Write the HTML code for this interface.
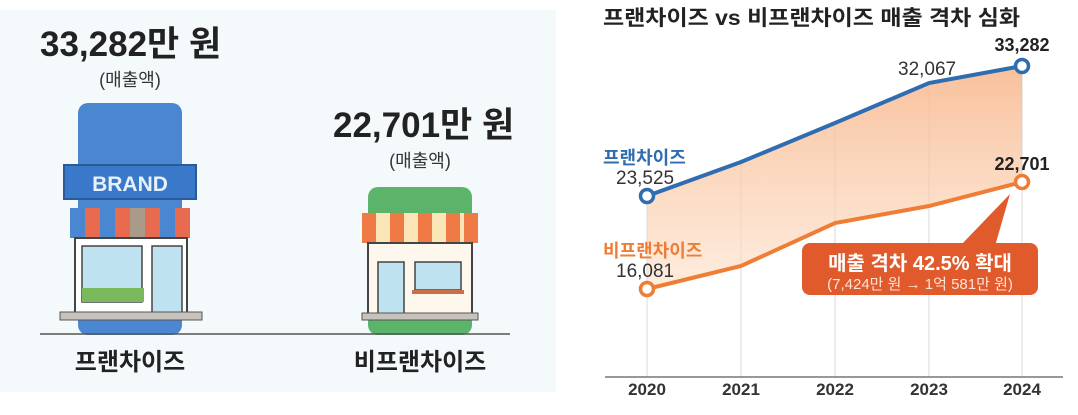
<!DOCTYPE html>
<html><head><meta charset="utf-8"><style>
body{margin:0;width:1078px;height:410px;background:#fff;overflow:hidden;font-family:"Liberation Sans","Noto Sans CJK KR",sans-serif}
</style></head><body>
<svg width="1078" height="410" viewBox="0 0 1078 410" xmlns="http://www.w3.org/2000/svg" font-family="Liberation Sans, Noto Sans CJK KR, sans-serif">
<defs>
<linearGradient id="gap" x1="0" y1="0" x2="0" y2="1"><stop offset="0" stop-color="#f7b589" stop-opacity="0.85"/><stop offset="1" stop-color="#fde0c8" stop-opacity="0.6"/></linearGradient>
</defs>
<!-- left panel -->
<rect x="0" y="10" width="556" height="382" fill="#f4fafb"/>
<text x="40" y="56" font-size="35" font-weight="bold" fill="#222">33,282만 원</text>
<text x="130" y="86" font-size="18" fill="#333" text-anchor="middle">(매출액)</text>
<rect x="78" y="103" width="104" height="232" rx="10" fill="#4a87d0"/>
<rect x="64" y="165" width="132" height="34" fill="#3a78c9" stroke="#2c5a96" stroke-width="2"/>
<text x="130" y="191" font-size="21" font-weight="bold" fill="#e8f1fb" text-anchor="middle">BRAND</text>
<g>
<rect x="70" y="208" width="120" height="30" fill="#e86a4f"/>
<rect x="70" y="208" width="15" height="30" fill="#4a87d0"/><rect x="100" y="208" width="15" height="30" fill="#4a87d0"/><rect x="130" y="208" width="15" height="30" fill="#a99a8a"/><rect x="160" y="208" width="15" height="30" fill="#4a87d0"/>
<rect x="75" y="238" width="112" height="80" fill="#fff" stroke="#444" stroke-width="2"/>
<rect x="82" y="246" width="60" height="56" fill="#bfe2f0" stroke="#444" stroke-width="1.5"/>
<rect x="82" y="288" width="62" height="14" fill="#7ab85c"/>
<rect x="152" y="246" width="30" height="70" fill="#bfe2f0" stroke="#444" stroke-width="1.5"/>
<rect x="60" y="312" width="142" height="8" fill="#c8c2bc" stroke="#555"/>
</g>
<text x="333" y="137" font-size="35" font-weight="bold" fill="#222">22,701만 원</text>
<text x="420" y="167" font-size="18" fill="#333" text-anchor="middle">(매출액)</text>
<rect x="368" y="187" width="104" height="148" rx="10" fill="#5cb46a"/>
<rect x="362" y="213" width="116" height="30" fill="#fbe6b8"/>
<rect x="362" y="213" width="14" height="30" fill="#ef7a45"/><rect x="390" y="213" width="14" height="30" fill="#ef7a45"/><rect x="418" y="213" width="14" height="30" fill="#ef7a45"/><rect x="446" y="213" width="14" height="30" fill="#ef7a45"/><rect x="464" y="213" width="14" height="30" fill="#ef7a45"/>
<rect x="368" y="243" width="104" height="72" fill="#fdf7ee" stroke="#444" stroke-width="2"/>
<rect x="378" y="262" width="26" height="52" fill="#bfe2f0" stroke="#444" stroke-width="1.5"/>
<rect x="415" y="262" width="46" height="28" fill="#bfe2f0" stroke="#444" stroke-width="1.5"/>
<rect x="412" y="290" width="52" height="4" fill="#c97048"/>
<rect x="362" y="313" width="116" height="7" fill="#c8c2bc" stroke="#555"/>
<line x1="40" y1="334" x2="510" y2="334" stroke="#555" stroke-width="1.5"/>
<text x="130" y="370" font-size="24" font-weight="bold" fill="#222" text-anchor="middle">프랜차이즈</text>
<text x="420" y="370" font-size="24" font-weight="bold" fill="#222" text-anchor="middle">비프랜차이즈</text>
<!-- right panel -->
<text x="603" y="25" font-size="21" font-weight="bold" fill="#222" textLength="417" lengthAdjust="spacingAndGlyphs">프랜차이즈 vs 비프랜차이즈 매출 격차 심화</text>
<g stroke="#d8d8d8" stroke-width="1">
<line x1="647" y1="196" x2="647" y2="377"/><line x1="741" y1="162" x2="741" y2="377"/><line x1="835" y1="123" x2="835" y2="377"/><line x1="929" y1="83" x2="929" y2="377"/><line x1="1022" y1="66" x2="1022" y2="377"/>
</g>
<polygon points="647,196 741,162 835,123 929,83 1022,66 1022,182 929,206 835,223 741,266 647,289" fill="url(#gap)"/>
<line x1="605" y1="377" x2="1063" y2="377" stroke="#777" stroke-width="1.5"/>
<polyline points="647,196 741,162 835,123 929,83 1022,66" fill="none" stroke="#2f6db0" stroke-width="4"/>
<polyline points="647,289 741,266 835,223 929,206 1022,182" fill="none" stroke="#ef7d35" stroke-width="4"/>
<circle cx="647" cy="196" r="6.5" fill="#fff" stroke="#2f6db0" stroke-width="3.5"/>
<circle cx="1022" cy="66" r="6.5" fill="#fff" stroke="#2f6db0" stroke-width="3.5"/>
<circle cx="647" cy="289" r="6.5" fill="#fff" stroke="#ef7d35" stroke-width="3.5"/>
<circle cx="1022" cy="182" r="6.5" fill="#fff" stroke="#ef7d35" stroke-width="3.5"/>
<text x="603" y="164" font-size="18" font-weight="bold" fill="#2f6db0">프랜차이즈</text>
<text x="616" y="184" font-size="19" fill="#333">23,525</text>
<text x="603" y="257" font-size="18" font-weight="bold" fill="#ef7d35">비프랜차이즈</text>
<text x="616" y="277" font-size="19" fill="#333">16,081</text>
<text x="898" y="75" font-size="19" fill="#333">32,067</text>
<text x="1022" y="51" font-size="18" font-weight="bold" fill="#222" text-anchor="middle">33,282</text>
<text x="1022" y="170" font-size="18" font-weight="bold" fill="#222" text-anchor="middle">22,701</text>
<polygon points="960,246 1010,194 995,246" fill="#e05a2c"/>
<rect x="802" y="243" width="236" height="52" rx="8" fill="#e05a2c"/>
<text x="920" y="270" font-size="20" font-weight="bold" fill="#fff" text-anchor="middle">매출 격차 42.5% 확대</text>
<text x="920" y="289" font-size="15" fill="#fde4d6" text-anchor="middle">(7,424만 원 → 1억 581만 원)</text>
<g font-size="17" font-weight="bold" fill="#333" text-anchor="middle">
<text x="647" y="395">2020</text><text x="741" y="395">2021</text><text x="835" y="395">2022</text><text x="929" y="395">2023</text><text x="1022" y="395">2024</text>
</g>
</svg>
</body></html>
